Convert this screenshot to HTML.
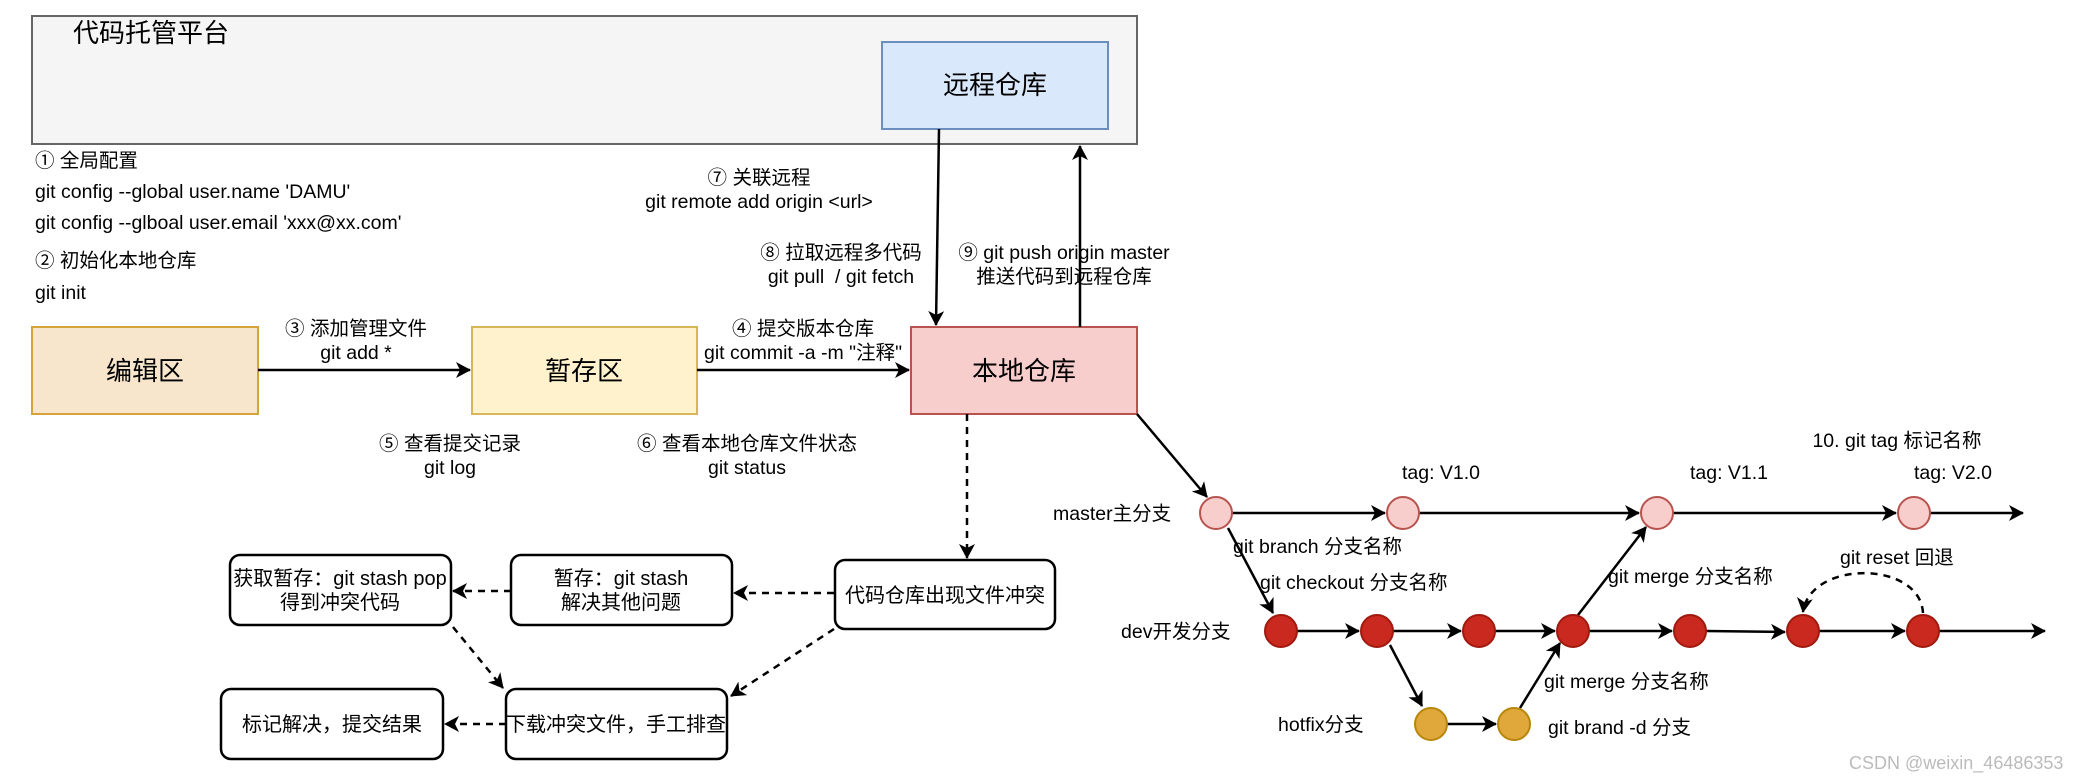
<!DOCTYPE html>
<html><head><meta charset="utf-8"><style>
body{margin:0;background:#fff}
svg{display:block}
text{font-family:"Liberation Sans","Noto Sans CJK SC",sans-serif;fill:#000}
</style></head><body>
<svg width="2094" height="781" viewBox="0 0 2094 781" xmlns="http://www.w3.org/2000/svg">
<defs>
<marker id="a" markerWidth="16" markerHeight="16" refX="14" refY="8" orient="auto" markerUnits="userSpaceOnUse"><path d="M0,0 L15,8 L0,16 L4,8 Z" fill="#000"/></marker>
</defs>
<rect x="32" y="16" width="1105" height="128" fill="#f5f5f5" stroke="#666" stroke-width="2"/>
<text x="73" y="42" font-size="26">代码托管平台</text>
<rect x="882" y="42" width="226" height="87" fill="#dae8fc" stroke="#6c8ebf" stroke-width="2"/>
<text x="995" y="94" font-size="26" text-anchor="middle">远程仓库</text>

<g font-size="19.5">
<text x="35" y="167">① 全局配置</text>
<text x="35" y="198">git config --global user.name 'DAMU'</text>
<text x="35" y="229">git config --glboal user.email 'xxx@xx.com'</text>
<text x="35" y="267">② 初始化本地仓库</text>
<text x="35" y="299">git init</text>
<g text-anchor="middle">
<text x="356" y="335">③ 添加管理文件</text><text x="356" y="359">git add *</text>
<text x="803" y="335">④ 提交版本仓库</text><text x="803" y="359">git commit -a -m "注释"</text>
<text x="759" y="184">⑦ 关联远程</text><text x="759" y="208">git remote add origin &lt;url&gt;</text>
<text x="841" y="259">⑧ 拉取远程多代码</text><text x="841" y="283">git pull &#160;/ git fetch</text>
<text x="1064" y="259">⑨ git push origin master</text><text x="1064" y="283">推送代码到远程仓库</text>
<text x="450" y="450">⑤ 查看提交记录</text><text x="450" y="474">git log</text>
<text x="747" y="450">⑥ 查看本地仓库文件状态</text><text x="747" y="474">git status</text>
</g></g>

<rect x="32" y="327" width="226" height="87" fill="#f8e6cc" stroke="#d6a23a" stroke-width="2"/>
<text x="145" y="380" font-size="26" text-anchor="middle">编辑区</text>
<rect x="472" y="327" width="225" height="87" fill="#fff2cc" stroke="#d6b656" stroke-width="2"/>
<text x="584" y="380" font-size="26" text-anchor="middle">暂存区</text>
<rect x="911" y="327" width="226" height="87" fill="#f8cecc" stroke="#b85450" stroke-width="2"/>
<text x="1024" y="380" font-size="26" text-anchor="middle">本地仓库</text>

<g stroke="#000" stroke-width="2.5" fill="none" marker-end="url(#a)">
<line x1="258" y1="370" x2="470" y2="370"/>
<line x1="697" y1="370" x2="909" y2="370"/>
<line x1="939" y1="129" x2="936" y2="325"/>
<line x1="1080" y1="327" x2="1080" y2="146"/>
<line x1="1137" y1="414" x2="1207" y2="497"/>
</g>

<g stroke="#000" stroke-width="2.5" fill="none" stroke-dasharray="7,6" marker-end="url(#a)">
<line x1="967" y1="414" x2="967" y2="558"/>
<line x1="834" y1="593" x2="734" y2="593"/>
<line x1="511" y1="591" x2="453" y2="591"/>
<line x1="453" y1="627" x2="503" y2="688"/>
<line x1="834" y1="629" x2="731" y2="696"/>
<line x1="506" y1="724" x2="445" y2="724"/>
<path d="M1923,613 C1920,560 1810,560 1803,612"/>
</g>

<g stroke="#000" stroke-width="2.5" fill="#fff">
<rect x="835" y="560" width="220" height="69" rx="10"/>
<rect x="511" y="555" width="221" height="70" rx="10"/>
<rect x="230" y="555" width="221" height="70" rx="10"/>
<rect x="221" y="689" width="222" height="70" rx="10"/>
<rect x="506" y="689" width="221" height="70" rx="10"/>
</g>
<g font-size="20" text-anchor="middle">
<text x="945" y="602">代码仓库出现文件冲突</text>
<text x="621" y="585">暂存：git stash</text><text x="621" y="609">解决其他问题</text>
<text x="340" y="585">获取暂存：git stash pop</text><text x="340" y="609">得到冲突代码</text>
<text x="332" y="731">标记解决，提交结果</text>
<text x="616" y="731">下载冲突文件，手工排查</text>
</g>

<g stroke="#000" stroke-width="2.5" fill="none" marker-end="url(#a)">
<line x1="1232" y1="513" x2="1385" y2="513"/>
<line x1="1419" y1="513" x2="1639" y2="513"/>
<line x1="1673" y1="513" x2="1896" y2="513"/>
<line x1="1930" y1="513" x2="2023" y2="513"/>
<line x1="1297" y1="631" x2="1359" y2="631"/>
<line x1="1393" y1="631" x2="1461" y2="631"/>
<line x1="1495" y1="631" x2="1555" y2="631"/>
<line x1="1589" y1="631" x2="1672" y2="631"/>
<line x1="1706" y1="631" x2="1785" y2="632"/>
<line x1="1819" y1="631" x2="1905" y2="631"/>
<line x1="1939" y1="631" x2="2045" y2="631"/>
<line x1="1447" y1="724" x2="1496" y2="724"/>
<line x1="1228" y1="528" x2="1273" y2="613"/>
<line x1="1390" y1="645" x2="1422" y2="706"/>
<line x1="1520" y1="708" x2="1560" y2="643"/>
<line x1="1578" y1="615" x2="1646" y2="527"/>
</g>

<g stroke="#b85450" stroke-width="2" fill="#f8cecc">
<circle cx="1216" cy="513" r="16"/><circle cx="1403" cy="513" r="16"/><circle cx="1657" cy="513" r="16"/><circle cx="1914" cy="513" r="16"/>
</g>
<g stroke="#a01a10" stroke-width="2" fill="#c9291e">
<circle cx="1281" cy="631" r="16"/><circle cx="1377" cy="631" r="16"/><circle cx="1479" cy="631" r="16"/><circle cx="1573" cy="631" r="16"/><circle cx="1690" cy="631" r="16"/><circle cx="1803" cy="631" r="16"/><circle cx="1923" cy="631" r="16"/>
</g>
<g stroke="#b8860b" stroke-width="2" fill="#e0a83a">
<circle cx="1431" cy="724" r="16"/><circle cx="1514" cy="724" r="16"/>
</g>

<g font-size="19.5">
<text x="1897" y="447" text-anchor="middle">10. git tag 标记名称</text>
<text x="1441" y="479" text-anchor="middle">tag: V1.0</text>
<text x="1729" y="479" text-anchor="middle">tag: V1.1</text>
<text x="1953" y="479" text-anchor="middle">tag: V2.0</text>
<text x="1053" y="520">master主分支</text>
<text x="1121" y="638">dev开发分支</text>
<text x="1278" y="731">hotfix分支</text>
<text x="1233" y="553">git branch 分支名称</text>
<text x="1260" y="589">git checkout 分支名称</text>
<text x="1608" y="583">git merge 分支名称</text>
<text x="1840" y="564">git reset 回退</text>
<text x="1544" y="688">git merge 分支名称</text>
<text x="1548" y="734">git brand -d 分支</text>
</g>
<text x="1849" y="769" font-size="18" style="fill:#bbb">CSDN @weixin_46486353</text>
</svg>
</body></html>
